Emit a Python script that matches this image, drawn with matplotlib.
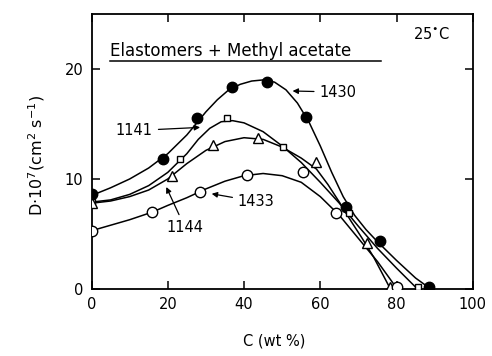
import matplotlib
matplotlib.use("Agg")
import matplotlib.pyplot as plt

# measured points
x1430 = [0, 18.7, 27.7, 36.8, 46, 56.2, 66.7, 75.6, 88.6]
y1430 = [8.6, 11.8, 15.5, 18.4, 18.8, 15.6, 7.5, 4.4, 0.2]
x1141 = [0, 23.2, 35.5, 50.1, 67.6, 85.5]
y1141 = [7.9, 11.8, 15.5, 12.9, 6.9, 0.2]
x1144 = [0, 21.1, 31.8, 43.6, 58.8, 72.2, 78.4]
y1144 = [7.8, 10.3, 13.1, 13.7, 11.5, 4.2, 0.2]
x1433 = [0, 15.9, 28.4, 40.7, 55.4, 64.0, 80.2]
y1433 = [5.3, 7.0, 8.8, 10.4, 10.6, 6.9, 0.2]

# smooth curves
cx1430 = [0, 5, 10, 15, 20, 25, 30, 33, 36, 39, 42, 45, 48, 51, 54, 57, 60, 63, 66, 69, 72, 75, 80, 85, 89]
cy1430 = [8.5, 9.2, 10.0, 11.0, 12.3, 14.0, 16.1, 17.2, 18.1, 18.6, 18.9, 19.0, 18.8, 18.1, 16.9, 15.2, 13.0, 10.6, 8.4, 6.7, 5.4, 4.3, 2.6, 1.0, 0.0]
cx1141 = [0, 5, 10, 15, 20, 25, 28, 31, 34, 37, 40, 45, 50, 55, 60, 65, 70, 75, 80, 85.5]
cy1141 = [7.9, 8.1, 8.6, 9.4, 10.6, 12.3, 13.6, 14.6, 15.2, 15.3, 15.1, 14.3, 13.0, 11.5, 9.7, 7.8, 5.7, 3.7, 1.9, 0.0]
cx1144 = [0, 5, 10, 15, 20, 25, 30, 35, 40, 45, 50, 55, 59, 62, 65, 68, 71, 74, 78.4]
cy1144 = [7.8, 8.0, 8.4, 9.0, 10.0, 11.4, 12.6, 13.4, 13.75, 13.6, 12.9, 11.9, 10.9, 9.5, 7.9, 6.2, 4.6, 2.9, 0.0]
cx1433 = [0, 5, 10, 16, 20, 25, 30, 35, 40, 45, 50, 55, 60, 65, 70, 75, 80.2]
cy1433 = [5.3, 5.8, 6.3, 7.0, 7.6, 8.3, 9.1, 9.8, 10.3, 10.5, 10.3, 9.7, 8.4, 6.7, 4.6, 2.5, 0.0]

xticks = [0, 20, 40, 60, 80, 100]
yticks = [0, 10, 20]

fig = plt.figure(figsize=(4.92, 3.56), dpi=100)
ax = fig.add_axes([0.186, 0.188, 0.775, 0.773])
lw = 1.1
for cx, cy in [(cx1430, cy1430), (cx1141, cy1141), (cx1144, cy1144), (cx1433, cy1433)]:
    ax.plot(cx, cy, color='black', lw=lw, zorder=2)
ax.plot(x1430, y1430, 'o', color='black', ms=7.5, zorder=3)
ax.plot(x1141, y1141, 's', mfc='white', mec='black', mew=1.0, ms=5, zorder=3)
ax.plot(x1144, y1144, '^', mfc='white', mec='black', mew=1.0, ms=7, zorder=3)
ax.plot(x1433, y1433, 'o', mfc='white', mec='black', mew=1.0, ms=7.5, zorder=3)

ax.set_xlim(0, 100)
ax.set_ylim(0, 25)
ax.set_xticks(xticks)
ax.set_yticks(yticks)
ax.tick_params(direction='in', length=6, width=1.1, top=True, right=True, labelsize=10.5, pad=6)
for s in ax.spines.values():
    s.set_linewidth(1.3)
ax.set_xlabel('C (wt %)', fontsize=10.5)
ax.xaxis.set_label_coords(0.478, -0.162)
ax.set_ylabel(r'D$\cdot$10$^7$(cm$^2$ s$^{-1}$)', fontsize=11.5)
ax.yaxis.set_label_coords(-0.118, 0.487)

ax.text(4.9, 21.6, 'Elastomers + Methyl acetate', fontsize=12, va='center', ha='left')
ax.plot([4.9, 76], [20.75, 20.75], color='black', lw=1.1)
ax.text(84.2, 23.2, '25$^{\\bullet}$C', fontsize=10.5, va='center', ha='left')

ap = dict(arrowstyle='-|>', color='black', lw=0.9, mutation_scale=8)
ax.annotate('1430', xy=(52, 18.0), xytext=(59.8, 17.9), fontsize=10.5, va='center', ha='left', arrowprops=ap)
ax.annotate('1141', xy=(29.2, 14.7), xytext=(16.1, 14.4), fontsize=10.5, va='center', ha='right', arrowprops=ap)
ax.annotate('1144', xy=(19.3, 9.5), xytext=(24.5, 5.6), fontsize=10.5, va='center', ha='center', arrowprops=ap)
ax.annotate('1433', xy=(30.8, 8.7), xytext=(38.4, 7.95), fontsize=10.5, va='center', ha='left', arrowprops=ap)

fig.savefig('out.png', dpi=100)
